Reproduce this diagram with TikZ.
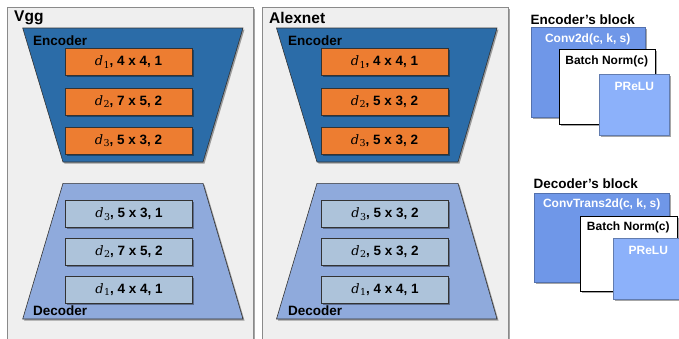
\documentclass[tikz,border=0pt]{standalone}
\usepackage{fontspec}
\setmainfont{Liberation Sans}
\newfontfamily\mfont{DejaVu Serif}
\usetikzlibrary{shadows}
\definecolor{panelbg}{HTML}{EFEFEF}
\definecolor{panelline}{HTML}{8A8A8A}
\definecolor{encblue}{HTML}{2B6CA8}
\definecolor{encorange}{HTML}{ED7D31}
\definecolor{declight}{HTML}{8FAADC}
\definecolor{decbox}{HTML}{ADC3DA}
\definecolor{convblue}{HTML}{6F97E8}
\definecolor{relublue}{HTML}{8CB1FA}
\newcommand{\dd}[1]{{\mfont\mdseries\itshape\fontsize{13}{15}\selectfont d}\kern0.3pt\raisebox{-2.6pt}{\mfont\mdseries\upshape\fontsize{9.5}{10}\selectfont #1}}
\tikzset{
  shad/.style={drop shadow={shadow xshift=1.5pt, shadow yshift=-1.5pt, opacity=0.35, fill=black}},
  panel/.style={fill=panelbg, draw=panelline, line width=0.8pt, shad},
  enctrap/.style={fill=encblue, draw=black!80, line width=0.6pt, shad},
  dectrap/.style={fill=declight, draw=black!80, line width=0.6pt, shad},
  layerbox/.style={draw=black!80, line width=0.8pt, minimum width=127pt, minimum height=27pt,
    inner sep=0pt, font=\bfseries\fontsize{13.5}{15}\selectfont, shad},
  encbox/.style={layerbox, fill=encorange},
  decbox/.style={layerbox, fill=decbox},
  ttl/.style={font=\bfseries\fontsize{15.5}{17}\selectfont, anchor=west, inner sep=0pt},
  sub/.style={font=\bfseries\fontsize{13.5}{15}\selectfont, anchor=west, inner sep=0pt},
  blk/.style={anchor=north west, inner sep=0pt, line width=0.8pt, shad},
  blktxt/.style={font=\bfseries\fontsize{12}{14}\selectfont, inner sep=0pt},
}
\begin{document}
\begin{tikzpicture}[x=1pt,y=-1pt]
\useasboundingbox (0,0) rectangle (679,338);
% ---------- Vgg panel ----------
\path[panel] (7,7) rectangle (253,346);
\node[ttl] (vggt) at (14,18) {Vgg};
\path[enctrap] (22.7,28) -- (243,28) -- (203,162) -- (63,162) -- cycle;
\node[sub] (vggenc) at (33,40.5) {Encoder};
\node[encbox] (v1) at (128.5,62) {\dd{1}, 4 x 4, 1};
\node[encbox] (v2) at (128.5,101.5) {\dd{2}, 7 x 5, 2};
\node[encbox] (v3) at (128.5,140.5) {\dd{3}, 5 x 3, 2};
\path[dectrap] (63,183.3) -- (203,183.3) -- (243,319) -- (22.7,319) -- cycle;
\node[sub] (vggdec) at (33,310.7) {Decoder};
\node[decbox] (w3) at (129,214) {\dd{3}, 5 x 3, 1};
\node[decbox] (w2) at (129,251.5) {\dd{2}, 7 x 5, 2};
\node[decbox] (w1) at (129,289.5) {\dd{1}, 4 x 4, 1};
% ---------- Alexnet panel ----------
\begin{scope}[xshift=255pt]
\path[panel] (7,7) rectangle (253,346);
\node[ttl] (alext) at (14,18) {Alexnet};
\path[enctrap] (21.5,28) -- (242,28) -- (203,162) -- (62,162) -- cycle;
\node[sub] (alexenc) at (33,40.5) {Encoder};
\node[encbox] (a1) at (129.5,62) {\dd{1}, 4 x 4, 1};
\node[encbox] (a2) at (129.5,101.5) {\dd{2}, 5 x 3, 2};
\node[encbox] (a3) at (129.5,140.5) {\dd{3}, 5 x 3, 2};
\path[dectrap] (62,183.3) -- (203,183.3) -- (242,319) -- (21.5,319) -- cycle;
\node[sub] (alexdec) at (33,310.7) {Decoder};
\node[decbox] (b3) at (130,214) {\dd{3}, 5 x 3, 2};
\node[decbox] (b2) at (130,251.5) {\dd{2}, 5 x 3, 2};
\node[decbox] (b1) at (130,289.5) {\dd{1}, 4 x 4, 1};
\end{scope}
% ---------- Encoder's block ----------
\node[sub] (encblk) at (530.5,20) {Encoder’s block};
\node[blk, fill=convblue, draw=convblue!75!black, minimum width=114pt, minimum height=89.4pt] (econv) at (531,27.3) {};
\node[blktxt, text=white] (econvt) at (587.7,39.5) {Conv2d(c, k, s)};
\node[blk, fill=white, draw=black, minimum width=96pt, minimum height=75pt] (ebn) at (559,49) {};
\node[blktxt] (ebnt) at (606.7,61.5) {Batch Norm(c)};
\node[blk, fill=relublue, draw=relublue!70!black, minimum width=70pt, minimum height=61pt] (erelu) at (599.3,74) {};
\node[blktxt, text=white] (erelut) at (634.3,86.5) {PReLU};
% ---------- Decoder's block ----------
\node[sub] (decblk) at (533.3,184) {Decoder’s block};
\node[blk, fill=convblue, draw=convblue!75!black, minimum width=135pt, minimum height=89pt] (dconv) at (534.3,192.7) {};
\node[blktxt, text=white] (dconvt) at (601.7,204.5) {ConvTrans2d(c, k, s)};
\node[blk, fill=white, draw=black, minimum width=96.7pt, minimum height=75pt] (dbn) at (580,215.7) {};
\node[blktxt] (dbnt) at (628.3,227) {Batch Norm(c)};
\node[blk, fill=relublue, draw=relublue!70!black, minimum width=70pt, minimum height=60.7pt] (drelu) at (613.3,238.3) {};
\node[blktxt, text=white] (drelut) at (648.3,250.5) {PReLU};
\end{tikzpicture}
\end{document}
